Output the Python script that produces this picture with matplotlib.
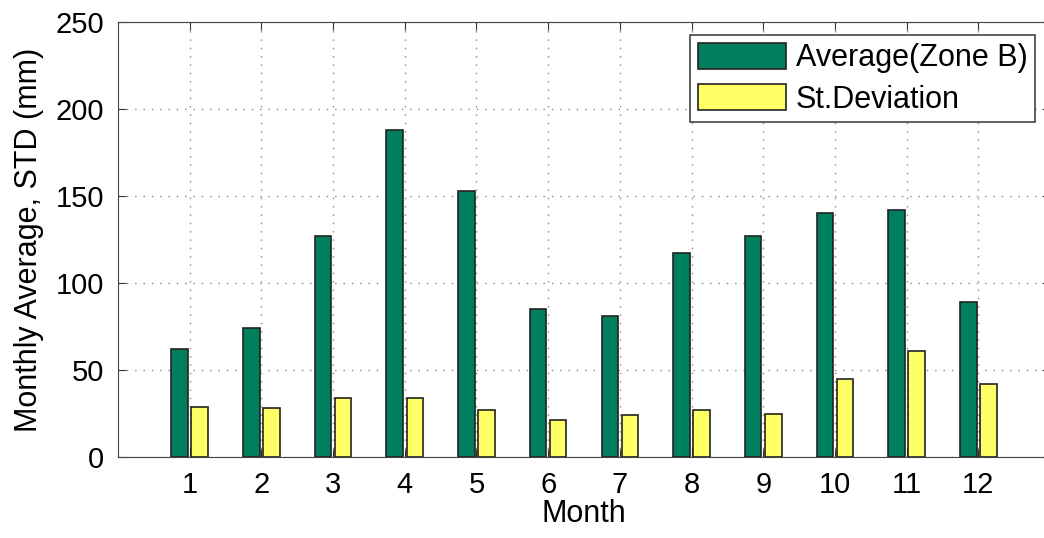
import numpy as np
import matplotlib.pyplot as plt

plt.rcParams['font.family'] = ['Liberation Sans', 'DejaVu Sans']

# dados
months = np.arange(1, 13)
media = [62, 74, 127, 188, 153, 85, 81, 117, 127, 140, 142, 89]
desvio = [29, 28, 34, 34, 27, 21, 24, 27, 25, 45, 61, 42]

fig = plt.figure(figsize=(10.44, 5.38), dpi=100)
ax = fig.add_axes([118/1044, (538-457)/538, 932/1044, 435/538])

w = 0.23
ax.bar(months - 0.14, media, w, color='#007f5f', edgecolor='#222222', linewidth=1.2,
       label='Average(Zone B)', zorder=3)
ax.bar(months + 0.14, desvio, w, color='#ffff66', edgecolor='#222222', linewidth=1.2,
       label='St.Deviation', zorder=3)

ax.set_xlim(0, 13)
ax.set_ylim(0, 250)
ax.set_xticks(months)
ax.set_yticks(np.arange(0, 251, 50))
ax.grid(True, linestyle=(0, (1, 5)), color='#888888', linewidth=1)
ax.tick_params(direction='in', length=6, labelsize=21, top=True, right=True,
               color='#333333', pad=10)
for s in ax.spines.values():
    s.set_color('#444444')

ax.set_xlabel('Month', fontsize=22, labelpad=0)
ax.set_ylabel('Monthly Average, STD (mm)', fontsize=22, labelpad=8)

leg = ax.legend(loc='upper right', bbox_to_anchor=(1035/1044, 1 - 35/538),
                bbox_transform=fig.transFigure, fontsize=22, handlelength=2.9,
                handleheight=0.95, fancybox=False, framealpha=1, borderpad=0.25,
                labelspacing=0.35, handletextpad=0.3, borderaxespad=0)
leg.get_frame().set_edgecolor('#444444')
leg.get_frame().set_linewidth(1.2)

fig.savefig('out.png', dpi=100)
